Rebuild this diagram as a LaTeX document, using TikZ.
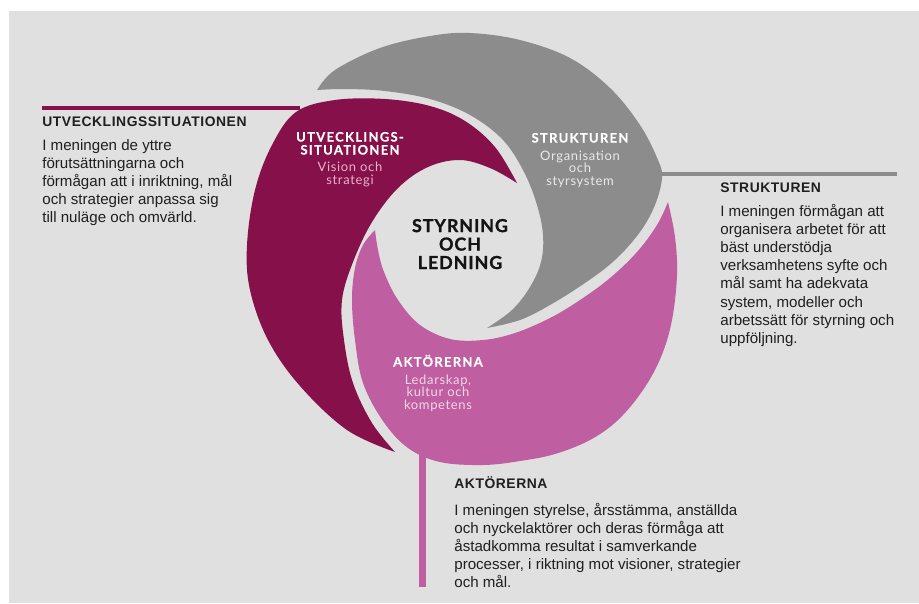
\documentclass[tikz,border=0pt]{standalone}
\usepackage{fontspec}
\setmainfont{Liberation Sans}
\newfontfamily\labelfont{Lato}
\definecolor{bgGray}{HTML}{E0E0E0}
\definecolor{vinRed}{HTML}{86104A}
\definecolor{midGray}{HTML}{8C8C8C}
\definecolor{rosePink}{HTML}{BF5EA0}
\definecolor{paleRose}{HTML}{E6B3CD}
\definecolor{paleGray}{HTML}{E9E9E9}
\definecolor{palePink}{HTML}{F3D7E9}

\begin{document}
\begin{tikzpicture}[x=0.02cm,y=-0.02cm,
  sidehead/.style={anchor=base west,inner sep=0pt,text=black!88,
    font=\fontsize{7.9}{10}\selectfont\bfseries\addfontfeatures{LetterSpace=4}},
  sidebody/.style={anchor=base west,inner sep=0pt,align=left,text=black!88,
    font=\fontsize{8.6}{10.3}\selectfont},
  ringhead/.style={anchor=base,inner sep=0pt,align=center,text=white,
    font=\labelfont\fontsize{7.4}{7.4}\selectfont\bfseries\addfontfeatures{LetterSpace=10,FakeBold=0.4}},
  ringsub/.style={anchor=base,inner sep=0pt,align=center,
    font=\labelfont\fontsize{7.4}{7.1}\selectfont\addfontfeatures{LetterSpace=5}}]
  \useasboundingbox (0,0) rectangle (919,603);
  \fill[bgGray] (9,11) rectangle (919,603);

  % lines out to the texts
  \coordinate (utvEnd) at (42,108);
  \coordinate (utvStart) at (300,108);
  \coordinate (strStart) at (655,174);
  \coordinate (strEnd) at (897,174);
  \coordinate (aktStart) at (422.5,452);
  \coordinate (aktEnd) at (422.5,587);
  \draw[vinRed,line width=2.3pt] (utvStart) -- (utvEnd);
  \draw[midGray,line width=2.6pt] (strStart) -- (strEnd);
  \draw[rosePink,line width=3.6pt] (aktStart) -- (aktEnd);

  % the three parts
  \fill[midGray] plot[smooth,tension=0.6] coordinates {(317,90) (335,70) (380,48) (430,36) (470,33) (520,40) (570,58) (610,88) (640,125) (658,160) (662,178) (655,205) (640,232) (615,260) (585,283) (550,305) (520,320) (487,328)}
    -- plot[smooth,tension=0.6] coordinates {(487,328) (512,310) (530,287) (541,262) (543,235) (537,205) (524,172) (503,140) (470,115) (430,99) (385,91) (345,89) (317,90)} -- cycle;
  \fill[vinRed] plot[smooth,tension=0.6] coordinates {(395,452) (347,430) (300,386) (268,340) (250,290) (247,245) (255,190) (272,145) (296,112) (335,100) (385,99) (430,106) (465,121) (495,147) (517,183)}
    -- plot[smooth,tension=0.6] coordinates {(517,183) (490,168) (460,160) (428,167) (398,188) (372,222) (353,262) (342,300) (344,340) (353,383) (372,423) (395,452)} -- cycle;
  \fill[rosePink] plot[smooth,tension=0.6] coordinates {(375,230) (363,245) (355,268) (352,300) (355,340) (363,383) (383,421) (408,448) (440,462) (483,465) (520,461) (555,454) (590,440) (618,420) (643,390) (661,357) (672,320) (677,275) (675,237) (668,202)}
    -- plot[smooth,tension=0.6] coordinates {(668,202) (657,225) (637,252) (610,278) (580,300) (550,318) (515,333) (483,340) (450,339) (420,325) (398,300) (384,272) (378,250) (375,230)} -- cycle;

  \node[anchor=base,align=center,inner sep=0pt,text=black!92,
    font=\labelfont\fontsize{10.2}{10.5}\selectfont\bfseries\addfontfeatures{LetterSpace=5,FakeBold=1}] (core) at (460,269) {STYRNING\\OCH\\LEDNING};

  \node[ringhead] (utvRing) at (350,154.5) {UTVECKLINGS-\\SITUATIONEN};
  \node[ringsub,text=paleRose] (utvSub) at (350,184) {Vision och\\strategi};
  \node[ringhead] (strRing) at (580,142.5) {STRUKTUREN};
  \node[ringsub,text=paleGray] (strSub) at (580,185) {Organisation\\och\\styrsystem};
  \node[ringhead] (aktRing) at (438,366.5) {AKTÖRERNA};
  \node[ringsub,text=palePink] (aktSub) at (438,409) {Ledarskap,\\kultur och\\kompetens};

  \node[sidehead] (utvHead) at (42,126) {UTVECKLINGSSITUATIONEN};
  \node[sidebody] (utvText) at (42,222.7) {I meningen de yttre\\förutsättningarna och\\förmågan att i inriktning, mål\\och strategier anpassa sig\\till nuläge och omvärld.};
  \node[sidehead] (strHead) at (720,192) {STRUKTUREN};
  \node[sidebody] (strText) at (720,343.2) {I meningen förmågan att\\organisera arbetet för att\\bäst understödja\\verksamhetens syfte och\\mål samt ha adekvata\\system, modeller och\\arbetssätt för styrning och\\uppföljning.};
  \node[sidehead] (aktHead) at (454,488) {AKTÖRERNA};
  \node[sidebody] (aktText) at (454,587.5) {I meningen styrelse, årsstämma, anställda\\och nyckelaktörer och deras förmåga att\\åstadkomma resultat i samverkande\\processer, i riktning mot visioner, strategier\\och mål.};
\end{tikzpicture}
\end{document}
